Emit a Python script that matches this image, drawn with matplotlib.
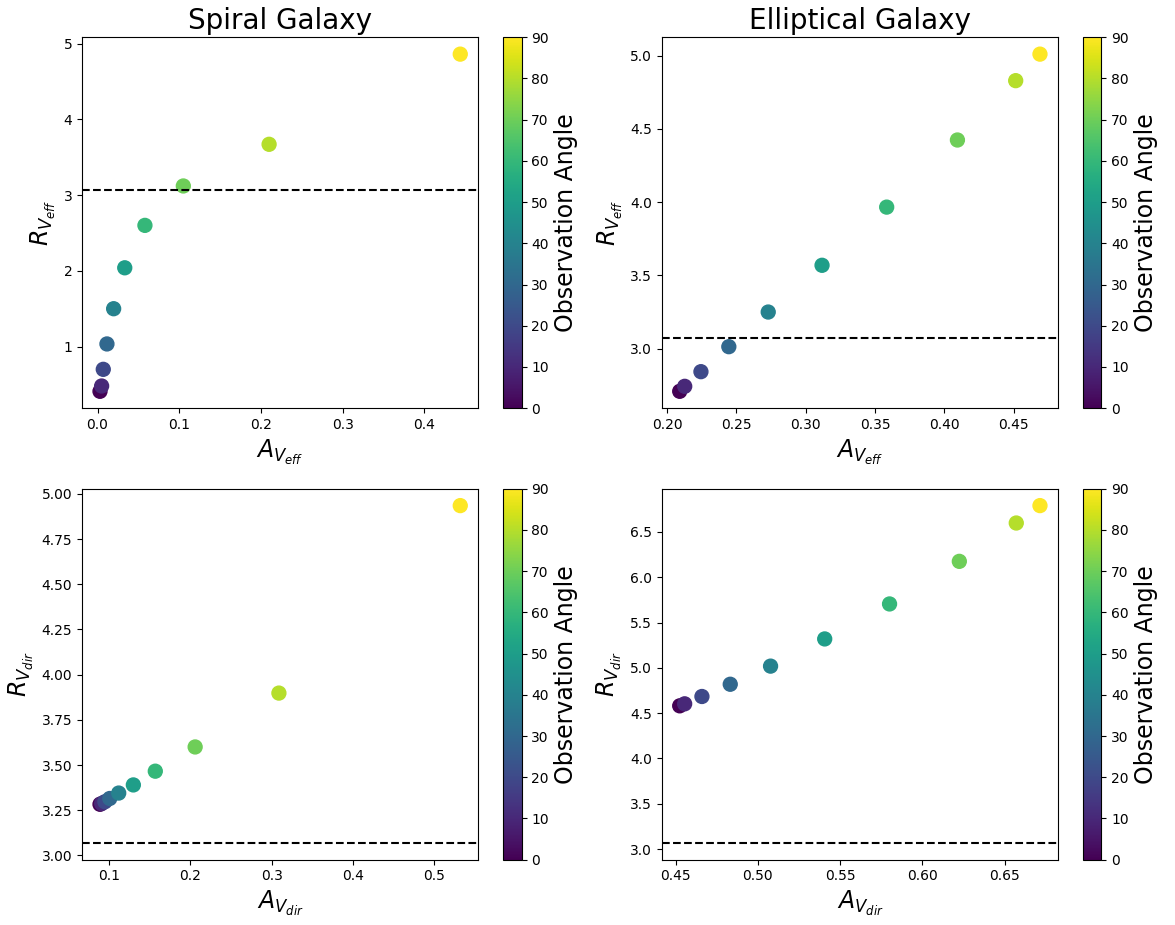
import numpy as np
import matplotlib
matplotlib.use('Agg')
import matplotlib.pyplot as plt

angles = np.array([0, 10, 20, 30, 40, 50, 60, 70, 80, 90])

# spiral galaxy
spiral_av_eff = np.array([0.003, 0.005, 0.007, 0.0115, 0.0197, 0.0333, 0.058, 0.105, 0.210, 0.444])
spiral_rv_eff = np.array([0.41, 0.48, 0.70, 1.035, 1.50, 2.04, 2.60, 3.12, 3.67, 4.86])
spiral_av_dir = np.array([0.089, 0.091, 0.095, 0.101, 0.112, 0.130, 0.157, 0.206, 0.309, 0.532])
spiral_rv_dir = np.array([3.283, 3.287, 3.297, 3.315, 3.345, 3.39, 3.466, 3.60, 3.898, 4.935])

# elliptical galaxy
ellip_av_eff = np.array([0.2092, 0.2128, 0.2245, 0.2446, 0.273, 0.3118, 0.3584, 0.4094, 0.4514, 0.4689])
ellip_rv_eff = np.array([2.709, 2.743, 2.843, 3.0135, 3.25, 3.569, 3.966, 4.424, 4.829, 5.01])
ellip_av_dir = np.array([0.4525, 0.4555, 0.466, 0.4832, 0.5077, 0.5406, 0.580, 0.6224, 0.657, 0.6714])
ellip_rv_dir = np.array([4.581, 4.603, 4.684, 4.819, 5.019, 5.319, 5.705, 6.175, 6.598, 6.79])

rv_mw = 3.07  # milky way value

fig, axs = plt.subplots(2, 2, figsize=(11.75, 9.25))

panels = [
    (axs[0, 0], spiral_av_eff, spiral_rv_eff, r'$A_{V_{eff}}$', r'$R_{V_{eff}}$', 'Spiral Galaxy'),
    (axs[0, 1], ellip_av_eff, ellip_rv_eff, r'$A_{V_{eff}}$', r'$R_{V_{eff}}$', 'Elliptical Galaxy'),
    (axs[1, 0], spiral_av_dir, spiral_rv_dir, r'$A_{V_{dir}}$', r'$R_{V_{dir}}$', None),
    (axs[1, 1], ellip_av_dir, ellip_rv_dir, r'$A_{V_{dir}}$', r'$R_{V_{dir}}$', None),
]

for ax, x, y, xl, yl, title in panels:
    sc = ax.scatter(x, y, c=angles, cmap='viridis', s=100, vmin=0, vmax=90)
    ax.axhline(rv_mw, color='black', linestyle='--')
    ax.set_xlabel(xl, fontsize=17)
    ax.set_ylabel(yl, fontsize=17)
    if title:
        ax.set_title(title, fontsize=20)
    cb = fig.colorbar(sc, ax=ax)
    cb.set_label('Observation Angle', fontsize=17)

plt.tight_layout(pad=0.5, h_pad=1.2)
plt.savefig('out.png', dpi=100)
